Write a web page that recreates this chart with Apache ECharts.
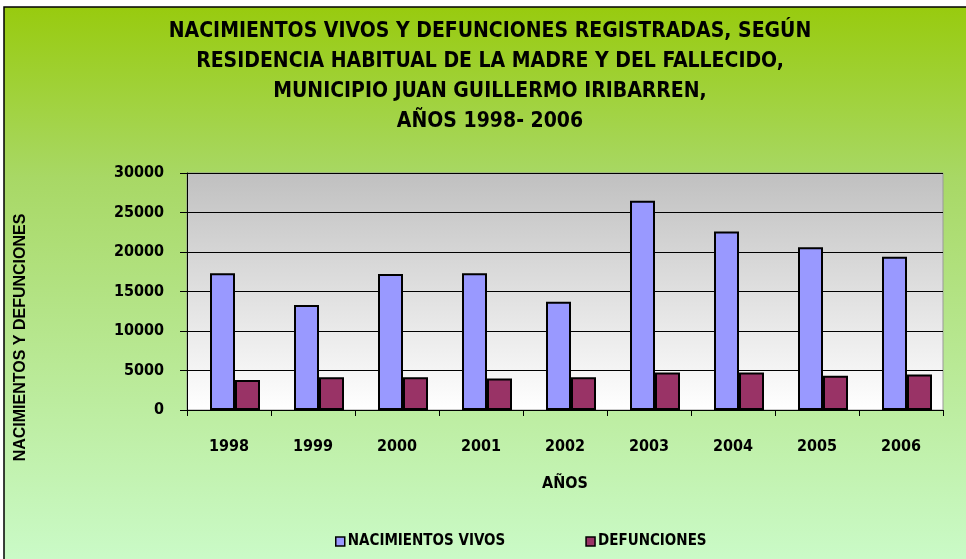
<!DOCTYPE html>
<html>
<head>
<meta charset="utf-8">
<script src="https://cdn.jsdelivr.net/npm/echarts@6/dist/echarts.min.js"></script>
<style>
    html, body { margin: 0; padding: 0; background: #fff; }
    #main { width: 966px; height: 559px; }
</style>
</head>
<body>
<div id="main"></div>
<script>
var years = ['1998', '1999', '2000', '2001', '2002', '2003', '2004', '2005', '2006'];
var nacimientos = [17300, 13300, 17200, 17300, 13700, 26500, 22600, 20600, 19400];
var defunciones = [3800, 4150, 4150, 4000, 4150, 4750, 4750, 4350, 4500];
var yTicks = [0, 5000, 10000, 15000, 20000, 25000, 30000];

var FONT = '"Liberation Sans Narrow", "DejaVu Sans Condensed", Arial, sans-serif';
var WIDE = '"Liberation Sans", Arial, sans-serif';

function initChart() {
    var _chart = echarts.init(document.getElementById('main'));
    var option = {
        backgroundColor: '#fff',
        graphic: [{
            type: 'rect',
            z: -10,
            silent: true,
            shape: { x: 4, y: 7, width: 980, height: 570 },
            style: {
                fill: new echarts.graphic.LinearGradient(0, 0, 0, 1, [
                    { offset: 0, color: '#98cb0e' },
                    { offset: 0.3, color: '#a8d865' },
                    { offset: 1, color: '#ccfccc' }
                ]),
                stroke: '#000',
                lineWidth: 1.5
            }
        }],
        title: {
            text: 'NACIMIENTOS VIVOS Y DEFUNCIONES REGISTRADAS, SEGÚN\nRESIDENCIA HABITUAL DE LA MADRE Y DEL FALLECIDO,\nMUNICIPIO JUAN GUILLERMO IRIBARREN,\nAÑOS 1998- 2006',
            left: 485,
            textAlign: 'center',
            top: 12,
            textStyle: {
                fontFamily: FONT,
                fontSize: 21,
                fontWeight: 'bold',
                color: '#000',
                lineHeight: 30
            }
        },
        legend: {
            data: ['NACIMIENTOS VIVOS', 'DEFUNCIONES'],
            top: 529,
            left: 330,
            itemGap: 80,
            itemWidth: 9,
            itemHeight: 9,
            icon: 'rect',
            itemStyle: { borderColor: '#000', borderWidth: 1.5 },
            textStyle: {
                fontFamily: FONT,
                fontSize: 15,
                fontWeight: 'bold',
                color: '#000',
                padding: [0, 0, 0, -2]
            }
        },
        grid: {
            left: 187,
            right: 23,
            top: 173,
            bottom: 149,
            show: true,
            borderColor: '#999',
            borderWidth: 1,
            backgroundColor: new echarts.graphic.LinearGradient(0, 0, 0, 1, [
                { offset: 0, color: '#c0c0c0' },
                { offset: 1, color: '#ffffff' }
            ])
        },
        xAxis: {
            type: 'category',
            data: years,
            name: 'AÑOS',
            nameLocation: 'middle',
            nameGap: 66,
            nameTextStyle: {
                fontFamily: FONT,
                fontSize: 16,
                fontWeight: 'bold',
                color: '#000'
            },
            axisLine: { lineStyle: { color: '#000', width: 1 } },
            axisTick: { show: true, length: 6, lineStyle: { color: '#000' } },
            axisLabel: {
                margin: 29,
                fontFamily: FONT,
                fontSize: 16,
                fontWeight: 'bold',
                color: '#000'
            }
        },
        yAxis: {
            type: 'value',
            min: 0,
            max: 30000,
            interval: 5000,
            name: 'NACIMIENTOS Y DEFUNCIONES',
            nameLocation: 'middle',
            nameRotate: 90,
            nameGap: 158,
            nameTextStyle: {
                fontFamily: WIDE,
                fontSize: 16,
                fontWeight: 'bold',
                color: '#000',
                padding: [0, 92, 0, 0]
            },
            axisLine: { show: true, lineStyle: { color: '#000', width: 1 } },
            axisTick: { show: true, length: 7, lineStyle: { color: '#000' } },
            splitLine: { show: true, lineStyle: { color: '#000', width: 1 } },
            axisLabel: {
                margin: 23,
                fontFamily: FONT,
                fontSize: 16,
                fontWeight: 'bold',
                color: '#000',
                customValues: yTicks,
                formatter: function (v) { return String(v); }
            }
        },
        series: [{
                // spacer so the bar pair sits like in the original
                name: 'spacer',
                type: 'bar',
                barWidth: 12,
                barGap: 0,
                data: [],
                silent: true
            },
            {
                name: 'NACIMIENTOS VIVOS',
                type: 'bar',
                barWidth: 25,
                barGap: 0,
                itemStyle: {
                    color: '#9999ff',
                    borderColor: '#000',
                    borderWidth: 2
                },
                data: nacimientos
            },
            {
                name: 'DEFUNCIONES',
                type: 'bar',
                barWidth: 25,
                barGap: 0,
                itemStyle: {
                    color: '#993366',
                    borderColor: '#000',
                    borderWidth: 2
                },
                data: defunciones
            }
        ]
    };
    _chart.setOption(option);
    window.addEventListener('resize', function () {
        _chart.resize();
    });
}

initChart();
</script>
</body>
</html>
